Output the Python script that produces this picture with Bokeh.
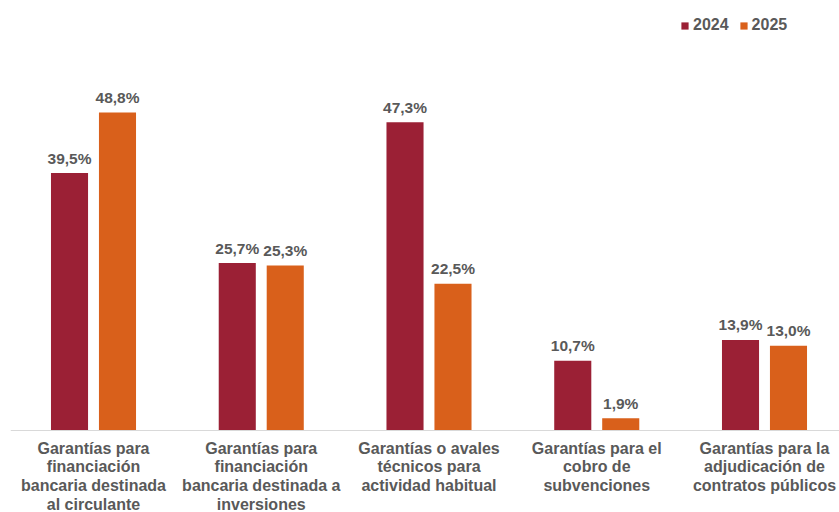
from bokeh.plotting import figure
from bokeh.models import ColumnDataSource, Range1d, Span, Legend, LegendItem
from bokeh.core.properties import value
from bokeh.embed import file_html
from bokeh.resources import INLINE

# Chart data
categories = [
    "Garantías para\nfinanciación\nbancaria destinada\nal circulante",
    "Garantías para\nfinanciación\nbancaria destinada a\ninversiones",
    "Garantías o avales\ntécnicos para\nactividad habitual",
    "Garantías para el\ncobro de\nsubvenciones",
    "Garantías para la\nadjudicación de\ncontratos públicos",
]
years = ["2024", "2025"]
values_2024 = [39.5, 25.7, 47.3, 10.7, 13.9]
values_2025 = [48.8, 25.3, 22.5, 1.9, 13.0]

COLOR_2024 = "#9B2035"
COLOR_2025 = "#D9601B"
TEXT_COLOR = "#595959"
FONT = "Liberation Sans"

def pct(v):
    return f"{v:.1f}".replace(".", ",") + "%"

idx = list(range(len(categories)))
offset = 0.143
bar_w = 0.221

src_a = ColumnDataSource(dict(x=[i - offset for i in idx], top=values_2024,
                              label=[pct(v) for v in values_2024]))
src_b = ColumnDataSource(dict(x=[i + offset for i in idx], top=values_2025,
                              label=[pct(v) for v in values_2025]))
src_cat = ColumnDataSource(dict(x=idx, y=[0] * len(idx), text=categories))

# the frame covers the whole canvas so the category labels below the
# baseline are drawn inside it
p = figure(width=839, height=512, output_backend="svg", toolbar_location=None,
           x_axis_location=None, y_axis_location=None,
           x_range=Range1d(-0.4948, 4.4471), y_range=Range1d(-12.58, 65.98),
           min_border_left=10, min_border_right=0, min_border_top=0,
           min_border_bottom=0)
p.outline_line_color = None
p.xgrid.visible = False
p.ygrid.visible = False
p.background_fill_color = "white"
p.border_fill_color = "white"

r_a = p.vbar(x="x", top="top", width=bar_w, source=src_a,
             fill_color=COLOR_2024, line_color=None)
r_b = p.vbar(x="x", top="top", width=bar_w, source=src_b,
             fill_color=COLOR_2025, line_color=None)

# baseline
p.add_layout(Span(location=0, dimension="width", line_color="#d9d9d9", line_width=1))

# value labels
for src in (src_a, src_b):
    p.text(x="x", y="top", text="label", source=src, text_align="center",
           text_baseline="alphabetic", y_offset=-15,
           text_font=value(FONT), text_font_style="bold",
           text_font_size="15.5px", text_color=TEXT_COLOR)

# category labels
p.text(x="x", y="y", text="text", source=src_cat, text_align="center",
       text_baseline="top", y_offset=9, text_line_height=1.11,
       text_font=value(FONT), text_font_style="bold",
       text_font_size="16px", text_color=TEXT_COLOR)

legend = Legend(items=[LegendItem(label=years[0], renderers=[r_a]),
                       LegendItem(label=years[1], renderers=[r_b])],
                orientation="horizontal", location=(670, 478),
                glyph_width=9, glyph_height=9, label_standoff=4, spacing=10,
                padding=0, margin=0, border_line_alpha=0,
                background_fill_alpha=0,
                label_text_font=FONT, label_text_font_style="bold",
                label_text_font_size="16px", label_text_color=TEXT_COLOR)
p.add_layout(legend)

open("out.html", "w").write(file_html(p, INLINE))
